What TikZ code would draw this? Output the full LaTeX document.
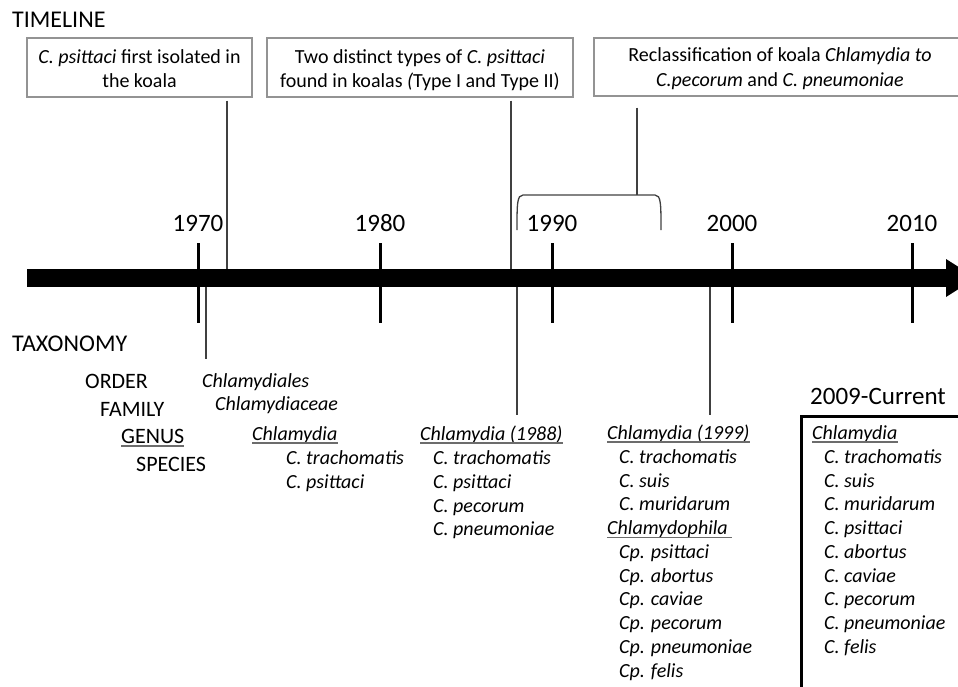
\documentclass[tikz,border=0pt]{standalone}
\usepackage{fontspec}
\setmainfont{Carlito}
\begin{document}
\begin{tikzpicture}[x=1pt,y=-1pt,
  evbox/.style={draw=gray!85, line width=1.2pt, inner sep=0pt},
  boxtxt/.style={inner sep=0pt, anchor=base, font=\fontsize{20}{24}\selectfont},
  evline/.style={draw=black!75, line width=1.3pt},
  tickmark/.style={line width=3pt},
  yeartxt/.style={inner sep=0pt, anchor=base, font=\fontsize{25}{30}\selectfont},
  headtxt/.style={inner sep=0pt, anchor=base west, font=\fontsize{24}{29}\selectfont},
  ranktxt/.style={inner sep=0pt, anchor=base west, font=\fontsize{22}{26}\selectfont},
  sptxt/.style={inner sep=0pt, anchor=base west, font=\fontsize{20}{24}\selectfont\itshape},
  uline/.style={draw=gray!85!black, line width=1.3pt}
]
\useasboundingbox (0,0) rectangle (958,687);
\clip (0,0) rectangle (958,687);

% headings
\node[headtxt] (hTL) at (12,28) {TIMELINE};
\node[headtxt] (hTX) at (12,351) {TAXONOMY};

% event boxes
\node[evbox, minimum width=225pt, minimum height=59pt] (b1) at (139.5,67.5) {};
\node[evbox, minimum width=306pt, minimum height=59pt] (b2) at (420,67.5) {};
\node[evbox, minimum width=372pt, minimum height=58pt] (b3) at (780,67) {};
\node[boxtxt] (t1a) at (139.5,64) {\textit{C. psittaci} first isolated in};
\node[boxtxt] (t1b) at (139.5,88) {the koala};
\node[boxtxt] (t2a) at (420,64) {Two distinct types of \textit{C. psittaci}};
\node[boxtxt] (t2b) at (420,88) {found in koalas \textit{(}Type I and Type II)};
\node[boxtxt] (t3a) at (780,62) {Reclassification of koala \textit{Chlamydia to}};
\node[boxtxt] (t3b) at (780,87) {\textit{C.pecorum} and \textit{C. pneumoniae}};

% timeline bar
\node[fill=black, inner sep=0pt, minimum width=920pt, minimum height=18pt] (bar) at (487,278) {};
\fill (946,259) -- (976,278) -- (946,297) -- cycle;

% ticks and years
\foreach \x/\yr in {198/1970, 380/1980, 552/1990, 732/2000, 912/2010}{
  \draw[tickmark] (\x,243) -- (\x,323);
  \node[yeartxt] (y\yr) at (\x,232) {\yr};
}

% event connectors (upper)
\coordinate (x1) at (227,0);
\coordinate (x2) at (511,0);
\coordinate (x3) at (637,0);
\coordinate (brk) at (637,195);
\draw[evline] ([yshift=-3pt]b1.south -| x1) -- (bar.north -| x1);
\draw[evline] ([yshift=-3pt]b2.south -| x2) -- (bar.north -| x2);
\draw[evline] ([yshift=-11pt]b3.south -| x3) -- (brk);
\draw[evline] (517,230) .. controls (517,204) and (517,195) .. (523,195) -- (655,195) .. controls (661,195) and (661,204) .. (661,230);

% event connectors (lower)
\coordinate (l1) at (206,359);
\coordinate (l2) at (517,415);
\coordinate (l3) at (710,415);
\draw[evline] (bar.south -| l1) -- (l1);
\draw[evline] (bar.south -| l2) -- (l2);
\draw[evline] (bar.south -| l3) -- (l3);

% ranks
\node[ranktxt] (rO) at (85,388) {ORDER};
\node[ranktxt] (rF) at (100,416) {FAMILY};
\node[ranktxt] (rG) at (121,443) {GENUS};
\node[ranktxt] (rS) at (136,471) {SPECIES};
\draw[uline] ([yshift=-3pt]rG.base west) -- ([yshift=-3pt]rG.base east);

% 1970s column
\node[sptxt] (cOrd) at (202,387) {Chlamydiales};
\node[sptxt] (cFam) at (215,410) {Chlamydiaceae};
\node[sptxt] (g70) at (252,440) {Chlamydia};
\draw[uline] ([yshift=-3pt]g70.base west) -- ([yshift=-3pt]g70.base east);
\node[sptxt] (s70a) at (286,464) {C. trachomatis};
\node[sptxt] (s70b) at (286,488) {C. psittaci};

% 1988 column
\node[sptxt] (g88) at (420,440) {Chlamydia (1988)};
\draw[uline] ([yshift=-3pt]g88.base west) -- ([yshift=-3pt]g88.base east);
\node[sptxt] (s88a) at (433,464) {C. trachomatis};
\node[sptxt] (s88b) at (433,488) {C. psittaci};
\node[sptxt] (s88c) at (433,512) {C. pecorum};
\node[sptxt] (s88d) at (433,535) {C. pneumoniae};

% 1999 column
\node[sptxt] (g99) at (607,439) {Chlamydia (1999)};
\draw[uline] ([yshift=-3pt]g99.base west) -- ([yshift=-3pt]g99.base east);
\node[sptxt] (s99a) at (619,463) {C. trachomatis};
\node[sptxt] (s99b) at (619,487) {C. suis};
\node[sptxt] (s99c) at (619,510.6) {C. muridarum};
\node[sptxt] (g99b) at (607,534.4) {Chlamydophila};
\draw[uline] ([yshift=-3pt]g99b.base west) -- ([yshift=-3pt,xshift=4pt]g99b.base east);
\node[sptxt] (p99a) at (619,558.2) {Cp. psittaci};
\node[sptxt] (p99b) at (619,582) {Cp. abortus};
\node[sptxt] (p99c) at (619,605.8) {Cp. caviae};
\node[sptxt] (p99d) at (619,629.6) {Cp. pecorum};
\node[sptxt] (p99e) at (619,653.4) {Cp. pneumoniae};
\node[sptxt] (p99f) at (619,677.2) {Cp. felis};

% 2009-current box
\node[headtxt, font=\fontsize{25}{30}\selectfont] (hCur) at (810,404) {2009-Current};
\node[draw, line width=2.5pt, inner sep=0pt, minimum width=200pt, minimum height=300pt, anchor=north west] (cur) at (800,415) {};
\node[sptxt] (g09) at (812,439) {Chlamydia};
\draw[uline] ([yshift=-3pt]g09.base west) -- ([yshift=-3pt]g09.base east);
\node[sptxt] (s09a) at (824,463) {C. trachomatis};
\node[sptxt] (s09b) at (824,487) {C. suis};
\node[sptxt] (s09c) at (824,510.6) {C. muridarum};
\node[sptxt] (s09d) at (824,534.4) {C. psittaci};
\node[sptxt] (s09e) at (824,558.2) {C. abortus};
\node[sptxt] (s09f) at (824,582) {C. caviae};
\node[sptxt] (s09g) at (824,605.8) {C. pecorum};
\node[sptxt] (s09h) at (824,629.6) {C. pneumoniae};
\node[sptxt] (s09i) at (824,653.4) {C. felis};
\end{tikzpicture}
\end{document}
